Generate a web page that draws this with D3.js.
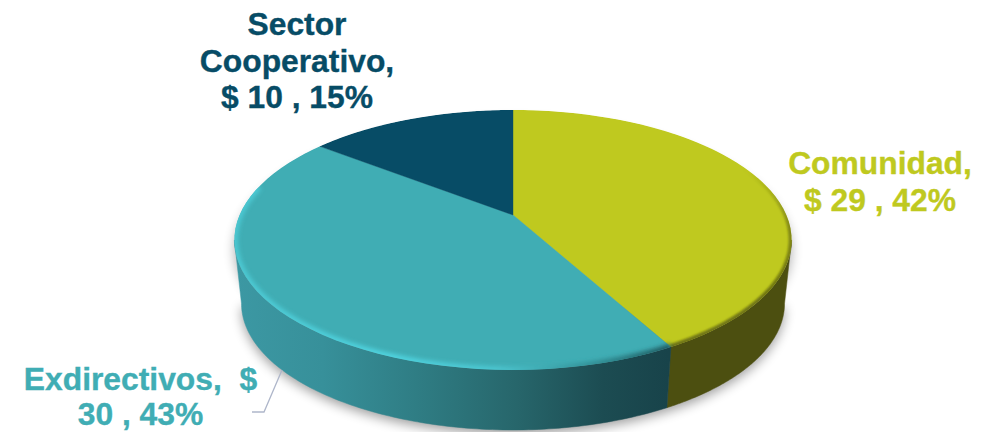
<!DOCTYPE html>
<html><head><meta charset="utf-8">
<script src="https://cdnjs.cloudflare.com/ajax/libs/d3/7.8.5/d3.min.js"></script>
<style>html,body{margin:0;padding:0;background:#fff}svg{display:block}text{font-family:"Liberation Sans",Arial,sans-serif;font-weight:700;font-size:31.8px;text-anchor:middle;stroke-width:.35px}</style>
</head><body><div id="c"></div>
<script>
const categories = ["Comunidad", "Exdirectivos", "Sector Cooperativo"];
const values = [29, 30, 10];
const percents = ["42%", "43%", "15%"];
const topColors = ["#bfc91f", "#40adb4", "#074c66"];

const W = 998, H = 432;
const svg = d3.select("#c").append("svg").attr("width", W).attr("height", H);
const defs = svg.append("defs");

// perspective projection of the pie's disc
const k = 0.192;
const xScale = d3.scaleLinear().domain([-1, 1]).range([513 - 273.4, 513 + 273.4]);
const yTop = d3.scaleLinear().domain([-1, 1]).range([215 - 125.2, 215 + 125.2]);
const yBot = d3.scaleLinear().domain([-1, 1]).range([279 - 122, 279 + 122]);
const xBot = d3.scaleLinear().domain([-1, 1]).range([513 - 266.5, 513 + 266.5]);
function proj(theta, lower) {
  const u = Math.sin(theta), v = -Math.cos(theta), w = 1 - k * v;
  return lower ? [xBot(u / w), yBot(v / w)] : [xScale(u / w), yTop(v / w)];
}
function arcPts(a0, a1, lower) { return d3.range(0, 121).map(i => proj(a0 + (a1 - a0) * i / 120, lower)); }
const line = d3.line();
const centre = [xScale(0), yTop(0)];

const slices = d3.pie().sort(null).startAngle(0).endAngle(2 * Math.PI)(values);
const silR = Math.PI - Math.acos(k), silL = Math.PI + Math.acos(k);

// filters
const blur = (id, s) => defs.append("filter").attr("id", id).attr("x", "-20%").attr("y", "-20%").attr("width", "140%").attr("height", "140%")
  .append("feGaussianBlur").attr("stdDeviation", s);
blur("sh", 6); blur("b2", 2); blur("b1", 1.1);

// gradients
const grad = (id, stops, x1, x2, y1, y2) => {
  const g = defs.append("linearGradient").attr("id", id).attr("gradientUnits", "userSpaceOnUse")
    .attr("x1", x1).attr("x2", x2).attr("y1", y1).attr("y2", y2);
  stops.forEach(s => g.append("stop").attr("offset", s[0]).attr("stop-color", s[1]).attr("stop-opacity", s[2] === undefined ? 1 : s[2]));
};
grad("wallTeal", [[0, "#3c98a3"], [0.2, "#37909a"], [0.42, "#2f7d84"], [0.65, "#27666b"], [0.85, "#1c4c52"], [1, "#18434a"]], 236, 668, 0, 0);
grad("rimTeal", [[0, "#4cc8d2"], [0.35, "#4fd3df"], [0.6, "#4cc6d0"], [0.85, "#2f8a90"], [1, "#1f5a60"]], 236, 668, 0, 0);
grad("rimOlive", [[0, "#6f7412", 0], [0.45, "#6f7412", 0.75], [1, "#6f7412", 1]], 0, 0, 170, 300);

const hull = arcPts(silR, silL, true);
const topOutline = arcPts(0, 2 * Math.PI, false);

// drop shadow
svg.append("path").attr("d", line(hull) + "Z").attr("transform", "translate(0,4)")
  .attr("fill", "#000").attr("opacity", 0.38).attr("filter", "url(#sh)");
svg.append("path").attr("d", line(topOutline) + "Z").attr("transform", "translate(0,10)")
  .attr("fill", "#000").attr("opacity", 0.3).attr("filter", "url(#sh)");

// side walls
const a1 = slices[0].endAngle, a2 = slices[1].endAngle;
const walls = [[silR, a1, "#4c4f10"], [a1, silL, "url(#wallTeal)"]];
svg.selectAll("path.wall").data(walls).join("path").attr("class", "wall")
  .attr("d", d => line([...arcPts(d[0], d[1], false), ...arcPts(d[0], d[1], true).reverse()]) + "Z")
  .attr("fill", d => d[2]).attr("stroke", d => d[2]).attr("stroke-width", 0.5);

// top faces
defs.append("clipPath").attr("id", "topClip").append("path").attr("d", line(topOutline) + "Z");
const topG = svg.append("g").attr("clip-path", "url(#topClip)");
topG.selectAll("path.face").data(slices).join("path").attr("class", "face")
  .attr("d", d => line([centre, ...arcPts(d.startAngle, d.endAngle, false)]) + "Z")
  .attr("fill", (d, i) => topColors[i]).attr("stroke", (d, i) => topColors[i]).attr("stroke-width", 0.4);

// bevel along the rim
topG.append("path").attr("d", line(arcPts(1.0, a1, false))).attr("fill", "none")
  .attr("stroke", "url(#rimOlive)").attr("stroke-width", 6).attr("filter", "url(#b1)");
topG.append("path").attr("d", line(arcPts(a1, 4.95, false))).attr("fill", "none")
  .attr("stroke", "url(#rimTeal)").attr("stroke-width", 7).attr("filter", "url(#b2)");

// labels
const label = svg.append("g");
const labelLines = [
  [`${categories[2].split(" ")[0]}`, `${categories[2].split(" ")[1]},`, `$ ${values[2]} , ${percents[2]}`],
  [`${categories[0]},`, `$ ${values[0]} , ${percents[0]}`],
  [`${categories[1]},  $`, `${values[1]} , ${percents[1]}`]
];
const labelPos = [[297, 35, 36.5, 2], [880, 174, 37, 0], [140.5, 389.5, 35.7, 1]];
labelLines.forEach((ls, i) => {
  const p = labelPos[i];
  ls.forEach((t, j) => label.append("text").attr("x", p[0]).attr("y", p[1] + j * p[2])
    .attr("fill", topColors[p[3]]).attr("stroke", topColors[p[3]]).attr("xml:space", "preserve").style("white-space", "pre").text(t));
});

// leader line
svg.append("path").attr("d", line([[282, 370], [264, 412], [252, 412]])).attr("fill", "none")
  .attr("stroke", "#aeb6ca").attr("stroke-width", 1.3);
</script></body></html>
